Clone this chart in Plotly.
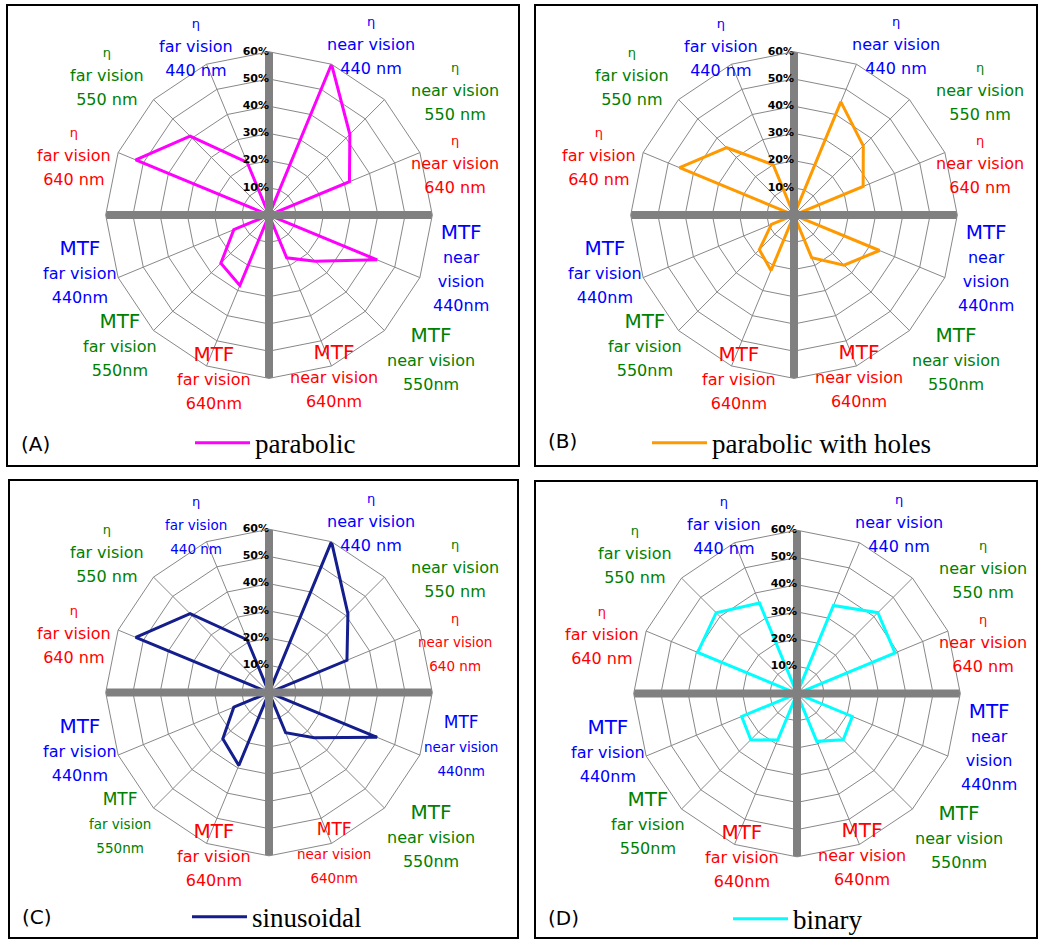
import plotly.graph_objects as go

# ---------------- data ----------------
categories = [
    "axis N", "η near vision 440 nm", "η near vision 550 nm", "η near vision 640 nm",
    "axis E", "MTF near vision 440nm", "MTF near vision 550nm", "MTF near vision 640nm",
    "axis S", "MTF far vision 640nm", "MTF far vision 550nm", "MTF far vision 440nm",
    "axis W", "η far vision 640 nm", "η far vision 550 nm", "η far vision 440 nm",
]

# category labels (lines separated by "|"); empty for the four cross axes
tick_labels = [
    "", "η|near vision|440 nm", "η|near vision|550 nm", "η|near vision|640 nm",
    "", "MTF|near|vision|440nm", "MTF|near vision|550nm", "MTF|near vision|640nm",
    "", "MTF|far vision|640nm", "MTF|far vision|550nm", "MTF|far vision|440nm",
    "", "η|far vision|640 nm", "η|far vision|550 nm", "η|far vision|440 nm",
]
tick_labels_c = [
    "", "η|near vision|440 nm", "η|near vision|550 nm", "η|near vision|640 nm",
    "", "MTF|near vision|440nm", "MTF|near vision|550nm", "MTF|near vision|640nm",
    "", "MTF|far vision|640nm", "MTF|far vision|550nm", "MTF|far vision|440nm",
    "", "η|far vision|640 nm", "η|far vision|550 nm", "η|far vision|440 nm",
]
label_colors = [
    None, "blue", "green", "red",
    None, "blue", "green", "red",
    None, "red", "green", "blue",
    None, "red", "green", "blue",
]

radial_ticks = [10, 20, 30, 40, 50, 60]
radial_tick_text = ["10%", "20%", "30%", "40%", "50%", "60%"]

parabolic = [0, 60, 42, 32, 0, 43, 24, 17, 0, 28, 25, 14, 0, 53, 41, 21]
parabolic_holes = [0, 45, 36, 27.5, 0, 34, 26, 17, 0, 22, 18, 9, 0, 45.5, 35, 20]
sinusoidal = [0, 60, 41, 31, 0, 43, 23.5, 16, 0, 29, 24, 14, 0, 53, 41, 21]
binary = [0, 35, 42, 39, 0, 22, 24, 19, 0, 18.5, 24, 22, 0, 39.5, 42, 36]

series_names = ["parabolic", "parabolic with holes", "sinusoidal", "binary"]
panel_letters = ["(A)", "(B)", "(C)", "(D)"]

# ---------------- styling / layout ----------------
W, H = 1040, 944
COLOR_MAP = {"blue": "#0000ff", "green": "#008000", "red": "#ff0000"}
SERIES_COLORS = ["#ff00ff", "#ff9900", "#141e8c", "#00ffff"]
GRID = "#888888"
AXIS_EXTENT = 62.8
R_PX = 164
LEGEND_ITEM_W = 55

# panel geometry in reference pixels
centers = [(269, 216), (794, 216), (269, 695.5), (797, 696.5)]
boxes = [(7, 5, 519, 468), (535, 5, 1037, 468), (9, 482, 518, 942), (535, 483, 1037, 942)]
legend_pos = [(255, 445), (712, 445), (252, 921), (793, 923)]
letter_pos = [(35, 446), (562, 443), (37, 921), (563, 922)]
# label block centres relative to the polar centre (pixels)
label_offsets = [
    None, (102, -170), (186, -124), (186, -50),
    None, (192, 53), (162, 144), (65, 161),
    None, (-55, 163), (-149, 130), (-189, 57),
    None, (-195, -58), (-162, -139), (-73, -168),
]
small_c = {3, 5, 7, 10, 15}  # labels drawn in a smaller font in panel C


def px(x):
    return x / W


def py(y):
    return 1 - y / H


def fmt_label(text, color, small=False):
    c = COLOR_MAP[color]
    out = []
    for p in text.split("|"):
        if p == "MTF":
            size = 17 if small else 20
        elif p == "η":
            size = 13
        else:
            size = 13.5 if small else 16
        out.append(f'<span style="color:{c};font-size:{size}px">{p}</span>')
    return "<br>".join(out)


fig = go.Figure()
all_series = [parabolic, parabolic_holes, sinusoidal, binary]
layout_extra = {}
annotations = []
shapes = []

for i in range(4):
    pid = "polar" if i == 0 else f"polar{i+1}"
    lid = "legend" if i == 0 else f"legend{i+1}"
    vals = all_series[i]
    fig.add_trace(go.Scatterpolar(
        r=vals + [vals[0]], theta=categories + [categories[0]],
        mode="lines", line=dict(color=SERIES_COLORS[i], width=3),
        name=series_names[i], subplot=pid, legend=lid, hoverinfo="skip",
    ))
    # thick cross axes
    for a, b in [(0, 8), (4, 12)]:
        fig.add_trace(go.Scatterpolar(
            r=[AXIS_EXTENT, 0, AXIS_EXTENT], theta=[categories[a], categories[a], categories[b]],
            mode="lines", line=dict(color="#808080", width=8),
            subplot=pid, showlegend=False, cliponaxis=False, hoverinfo="skip",
        ))
    # radial tick labels along the vertical axis
    fig.add_trace(go.Scatterpolar(
        r=radial_ticks, theta=[categories[0]] * len(radial_ticks),
        mode="text", text=radial_tick_text, textposition="middle left",
        textfont=dict(family="DejaVu Sans", size=11, color="black", weight="bold"),
        subplot=pid, showlegend=False, cliponaxis=False, hoverinfo="skip",
    ))

    cx, cy = centers[i]
    layout_extra[pid] = dict(
        domain=dict(x=[px(cx - R_PX), px(cx + R_PX)], y=[py(cy + R_PX), py(cy - R_PX)]),
        bgcolor="white",
        gridshape="linear",
        angularaxis=dict(
            type="category", categoryorder="array", categoryarray=categories,
            rotation=90, direction="clockwise", showticklabels=False, ticks="",
            gridcolor=GRID, gridwidth=1, showline=True, linecolor=GRID, linewidth=1,
        ),
        radialaxis=dict(
            range=[0, 60], tickvals=radial_ticks, showticklabels=False,
            angle=90, showline=False, gridcolor=GRID, gridwidth=1, ticks="",
        ),
    )
    # category labels
    labels = tick_labels_c if i == 2 else tick_labels
    for k, (t, c) in enumerate(zip(labels, label_colors)):
        if not t:
            continue
        dx, dy = label_offsets[k]
        annotations.append(dict(
            x=px(cx + dx), y=py(cy + dy), xref="paper", yref="paper",
            text=fmt_label(t, c, small=(i == 2 and k in small_c)),
            showarrow=False, xanchor="center", yanchor="middle", align="center",
            font=dict(family="DejaVu Sans", size=18.5, color=COLOR_MAP[c]),
        ))

    lx, ly = legend_pos[i]
    layout_extra[lid] = dict(
        x=px(lx - LEGEND_ITEM_W - 10), xanchor="left", y=py(ly), yanchor="middle",
        orientation="h", bgcolor="rgba(0,0,0,0)", itemwidth=LEGEND_ITEM_W,
        font=dict(family="Liberation Serif", size=27, color="black"),
    )
    ax, ay = letter_pos[i]
    annotations.append(dict(
        x=px(ax), y=py(ay), xref="paper", yref="paper", text=panel_letters[i],
        showarrow=False, xanchor="center", yanchor="middle",
        font=dict(family="DejaVu Sans", size=20, color="black"),
    ))
    x0, y0, x1, y1 = boxes[i]
    shapes.append(dict(type="rect", xref="paper", yref="paper",
                       x0=px(x0), x1=px(x1), y0=py(y1), y1=py(y0),
                       line=dict(color="black", width=2)))

fig.update_layout(
    width=W, height=H, margin=dict(l=0, r=0, t=0, b=0, pad=0),
    paper_bgcolor="white", plot_bgcolor="white",
    annotations=annotations, shapes=shapes, **layout_extra,
)

fig.write_html(
    "out.html",
    config={"displayModeBar": False},
    post_script=(
        "document.body.style.margin='0';document.body.style.overflow='hidden';"
        "var d=document.getElementsByClassName('plotly-graph-div')[0];"
        "d.style.position='fixed';d.style.left='0px';d.style.top='0px';"
        "var w=window.innerWidth,h=window.innerHeight;"
        "if(w>500&&h>500&&(w!=1040||h!=944)){Plotly.relayout(d,{width:w,height:h});}"
    ),
)
